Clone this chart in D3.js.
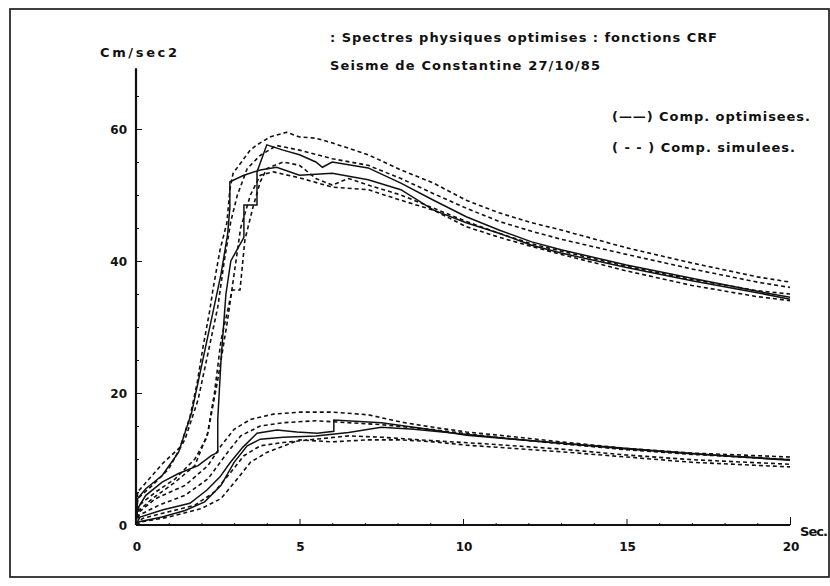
<!DOCTYPE html>
<html>
<head>
<meta charset="utf-8">
<script src="https://cdn.jsdelivr.net/npm/d3@7/dist/d3.min.js"></script>
<style>
  html, body { margin: 0; padding: 0; background: #fff; }
  svg text { font-family: "DejaVu Sans", sans-serif; font-weight: bold; fill: #111; }
</style>
</head>
<body>
<svg id="chart" width="830" height="586"></svg>
<script>
// Periods (s) and pseudo-accelerations (cm/s²) as [T, Sa] pairs.
// Upper family: optimised components (solid) and simulated ones (dashed).
const upperOpt1 = [[0,0],[0.05,2.5],[0.3,4.5],[0.8,6.5],[1.3,7.8],[1.9,9.0],[2.3,10.5],[2.5,11.0],[2.5,16],[2.6,25],[2.75,35],[2.9,40],[3.3,43.6],[3.3,48.5],[3.7,48.5],[3.7,53.5],[4.0,57.6],[4.5,56.8],[5.0,56.1],[5.5,55.0],[5.7,54.2],[6.0,55.0],[6.5,54.6],[7.1,54.1],[8.1,51.8],[9.1,49.2],[10.1,46.7],[11.1,44.7],[12.1,42.9],[13,41.7],[15,39.4],[17,37.4],[19,35.4],[20,34.5]];
const upperOpt2 = [[0,0],[0.05,4],[0.3,5.5],[0.8,7.5],[1.3,11],[1.7,17],[2.0,24],[2.3,31],[2.6,38],[2.8,44],[2.87,48],[2.87,52],[3.3,53],[3.8,53.8],[4.3,54.2],[5,53],[6,53.3],[7.1,52.3],[8.1,50.8],[9.1,47.7],[10.1,45.8],[11.1,44.2],[12.1,42.4],[13,41.2],[15,39.0],[17,37.0],[19,35.2],[20,34.2]];
const upperSim1 = [[0,0],[0.05,5],[0.3,6.4],[0.83,9.4],[1.35,11.8],[1.65,16.4],[1.87,21.5],[2.05,27],[2.26,32.6],[2.35,35.6],[2.57,41.7],[2.78,45.8],[2.87,50.8],[2.97,53.3],[3.27,55.3],[3.49,56.8],[3.7,57.6],[4.1,58.8],[4.6,59.5],[5.0,58.8],[5.5,58.6],[6.0,57.9],[7.1,56.1],[8.1,53.8],[9.1,51.8],[10.1,49.2],[11.1,47.3],[12.1,45.8],[13,44.7],[15,42],[17,39.7],[19,37.6],[20,36.8]];
const upperSim2 = [[0,0],[0.05,4],[0.5,6],[1.0,8.5],[1.5,13],[1.9,19],[2.2,26],[2.5,33],[2.7,40],[2.9,46],[3.1,50],[3.4,54],[3.8,56],[4.3,57.5],[5,56.8],[6,55.5],[7.1,54.5],[8.1,52.5],[9.1,50.2],[10.1,48],[11.1,46],[12.1,44.5],[13,43.3],[15,41],[17,38.8],[19,36.8],[20,36]];
const upperSim3 = [[0,0],[0.1,3],[0.6,5],[1.2,7],[1.8,10],[2.17,13.3],[2.4,20],[2.6,28],[2.94,35.6],[3.18,35.6],[3.33,43.2],[3.58,48.2],[3.8,52],[4.0,54],[4.5,55],[5,54.5],[5.5,52.5],[6,51.5],[6.5,52.5],[7.1,51.5],[8.1,50],[9.1,48],[10.1,46],[11.1,44.2],[12.1,42.6],[13,41.5],[15,39.2],[17,37.2],[19,35.5],[20,35]];
const upperSim4 = [[0,0],[0.05,2],[0.5,4],[1.2,6.5],[1.8,9],[2.2,14],[2.5,22],[2.8,31],[3.0,38],[3.2,45],[3.5,50],[3.8,53],[4.2,53.5],[5,52.6],[6,51.2],[7.1,50.8],[8.1,49.2],[9.1,47.7],[10.1,45.2],[11.1,43.6],[12.1,42.2],[13,41],[15,38.5],[17,36.3],[19,34.6],[20,34]];

// Lower family.
const lowerOpt1 = [[0,0],[0.12,1.2],[0.83,2.3],[1.65,3.3],[2.17,5.3],[2.57,7.3],[2.87,9.4],[3.27,11.8],[3.7,13.9],[4.31,14.4],[4.92,14.1],[5.54,13.9],[6.05,14.2],[6.05,15.9],[7.5,15.5],[9.1,14.4],[10.1,13.6],[13,12.4],[15,11.5],[17,10.8],[20,9.8]];
const lowerOpt2 = [[0,0],[0.1,0.5],[0.8,1.2],[1.5,2.2],[2.1,3.5],[2.6,6],[3.0,9.5],[3.4,12],[3.8,13],[4.5,13.3],[5.5,13.5],[6.5,14],[7.5,14.8],[8.5,14.5],[10,13.8],[12,12.8],[14,12],[16,11.2],[18,10.5],[20,9.9]];
const lowerSim1 = [[0,0],[0.1,2],[0.6,4],[1.5,6],[2.2,9],[2.6,12],[3.0,14.5],[3.5,16],[4.2,16.8],[5,17.1],[6,17.1],[7.1,16.7],[8.1,15.6],[9.1,14.8],[10.1,14.1],[11.1,13.6],[13,12.6],[15,11.6],[17,10.9],[20,10.3]];
const lowerSim2 = [[0,0],[0.1,1.5],[0.7,3],[1.5,4.5],[2.2,7],[2.8,11],[3.2,13.5],[3.8,15],[4.5,15.5],[5.5,15.8],[6.5,15.5],[7.5,15.2],[9,14.5],[11,13.3],[13,12.3],[15,11.4],[17,10.7],[20,9.9]];
const lowerSim3 = [[0,0],[0.2,1],[1,2],[1.8,3],[2.4,5],[2.9,8],[3.3,10.5],[3.8,12],[4.5,12.5],[5.5,13],[6.5,13.5],[7.5,13.3],[9,12.8],[11,12.2],[13,11.5],[15,10.6],[17,9.9],[20,9.2]];
const lowerSim4 = [[0,0],[0.2,0.5],[1,1.2],[2,2.5],[2.6,4],[3.1,7],[3.5,9.5],[4,11],[5,12.9],[6,12.6],[7.1,12.9],[8.1,12.9],[9.1,12.6],[10.1,12.1],[13,11.1],[15,10.3],[17,9.5],[20,8.8]];

const optimised = [upperOpt1, upperOpt2, lowerOpt1, lowerOpt2];
const simulated = [upperSim1, upperSim2, upperSim3, upperSim4, lowerSim1, lowerSim2, lowerSim3, lowerSim4];

const xTicks = [0, 5, 10, 15, 20];
const yTicks = [0, 20, 40, 60];
const titleLines = [": Spectres physiques optimises : fonctions CRF", "Seisme de Constantine 27/10/85"];
const legendLabels = ["(\u2014\u2014) Comp. optimisees.", "( - - ) Comp. simulees."];
const yUnit = "Cm/sec2";
const xUnit = "Sec.";

const svg = d3.select("#chart");

// frame
svg.append("rect")
  .attr("x", 10).attr("y", 9).attr("width", 819).attr("height", 568)
  .attr("fill", "none").attr("stroke", "#111").attr("stroke-width", 1.6);

const x = d3.scaleLinear().domain([0, 20]).range([136, 790]);
const y = d3.scaleLinear().domain([0, 60]).range([525, 129]);

// y axis: line up to ~69, ticks pointing right
const yAxis = d3.axisRight(y).tickValues(d3.range(0, 70, 5)).tickSize(3).tickFormat("");
const gy = svg.append("g").attr("transform", `translate(${x(0)},0)`).call(yAxis);
gy.select(".domain").remove();
gy.selectAll(".tick line").attr("stroke", "#111").attr("stroke-width", 1)
  .attr("x2", d => (d % 20 === 0 && d > 0) ? 6 : 3);
svg.append("line")
  .attr("x1", x(0)).attr("x2", x(0)).attr("y1", y(0)).attr("y2", y(69.2))
  .attr("stroke", "#111").attr("stroke-width", 2.2);
svg.append("g").selectAll("text").data(yTicks).join("text")
  .attr("x", x(0) - 9).attr("y", d => y(d) + 5)
  .attr("text-anchor", "end").attr("font-size", 12).text(d => d);

// x axis: ticks pointing up
const xAxis = d3.axisTop(x).tickValues(d3.range(0, 21, 1)).tickFormat("");
const gx = svg.append("g").attr("transform", `translate(0,${y(0)})`).call(xAxis);
gx.select(".domain").remove();
gx.selectAll(".tick line").attr("stroke", "#111").attr("stroke-width", 1)
  .attr("y2", d => d === 20 ? -8 : (d % 5 === 0 && d > 0 ? -6 : -2));
svg.append("line")
  .attr("x1", x(0)).attr("x2", x(20)).attr("y1", y(0)).attr("y2", y(0))
  .attr("stroke", "#111").attr("stroke-width", 1.8);
svg.append("g").selectAll("text").data(xTicks).join("text")
  .attr("x", d => x(d) + 1).attr("y", y(0) + 26)
  .attr("text-anchor", "middle").attr("font-size", 12).text(d => d);
svg.append("text").attr("x", 800).attr("y", y(0) + 11)
  .attr("font-size", 13).attr("textLength", 28).attr("lengthAdjust", "spacing").text(xUnit);
svg.append("text").attr("x", 100).attr("y", 57)
  .attr("font-size", 13).attr("textLength", 77).attr("lengthAdjust", "spacing").text(yUnit);

// titles
svg.append("text").attr("x", 330).attr("y", 42).attr("font-size", 13)
  .attr("textLength", 387).attr("lengthAdjust", "spacing").text(titleLines[0]);
svg.append("text").attr("x", 330).attr("y", 70).attr("font-size", 13)
  .attr("textLength", 270).attr("lengthAdjust", "spacing").text(titleLines[1]);

// legend
svg.append("text").attr("x", 612).attr("y", 121).attr("font-size", 13)
  .attr("textLength", 198).attr("lengthAdjust", "spacing").text(legendLabels[0]);
svg.append("text").attr("x", 612).attr("y", 152).attr("font-size", 13)
  .attr("textLength", 183).attr("lengthAdjust", "spacing").text(legendLabels[1]);

// curves
const line = d3.line().x(d => x(d[0])).y(d => y(d[1])).curve(d3.curveLinear);
const plot = svg.append("g").attr("fill", "none").attr("stroke", "#111");
plot.selectAll("path.sim").data(simulated).join("path")
  .attr("class", "sim").attr("d", line)
  .attr("stroke-width", 1.6).attr("stroke-dasharray", "4,3");
plot.selectAll("path.opt").data(optimised).join("path")
  .attr("class", "opt").attr("d", line)
  .attr("stroke-width", 1.5);
</script>
</body>
</html>
